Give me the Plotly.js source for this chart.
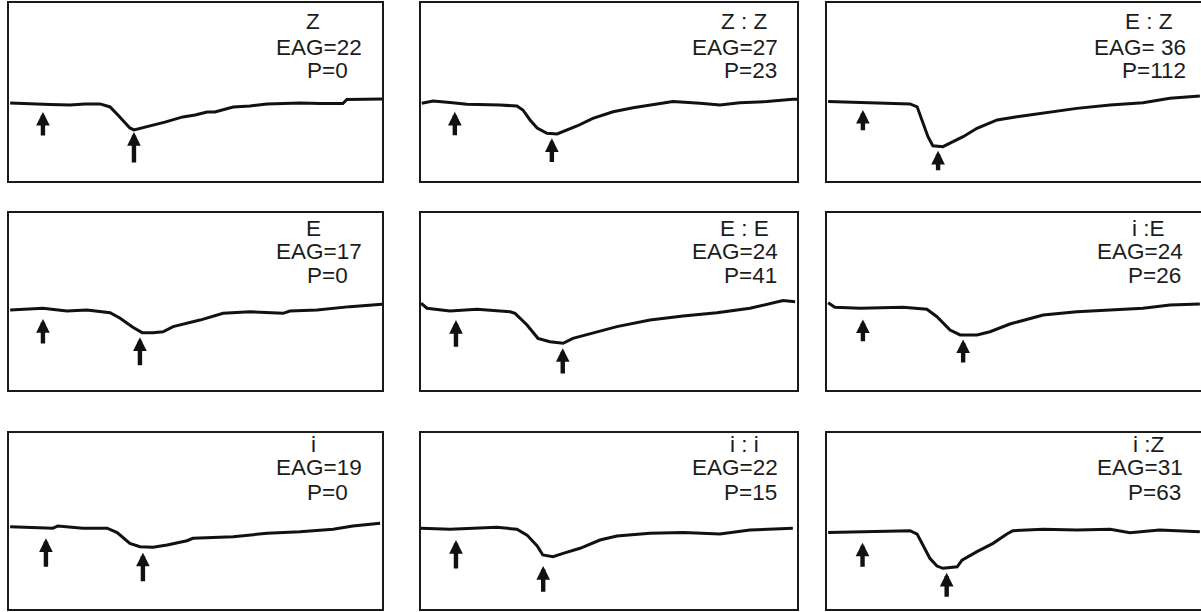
<!DOCTYPE html>
<html><head><meta charset="utf-8">
<script src="https://cdn.plot.ly/plotly-3.0.1.min.js"></script>
<style>html,body{margin:0;padding:0;background:#fff}#chart{width:1201px;height:612px}</style>
</head><body><div id="chart"></div>
<script>
// ---- data (time 0-100 across a panel, response 0-100 up the panel) ----
const pairLabels = ['Z', 'Z : Z', 'E : Z', 'E', 'E : E', 'i :E', 'i', 'i : i', 'i :Z'];
const eagValues = [22, 27, 36, 17, 24, 24, 19, 22, 31];
const pValues = [0, 23, 112, 0, 41, 26, 0, 15, 63];

const t1 = [0.3,5.6,11.0,16.4,20.4,24.4,27.1,29.2,31.1,32.4,33.5,35.1,37.8,41.8,46.6,49.9,53.1,55.2,60.1,64.6,69.2,78.0,83.4,89.5,90.6,95.4,100];
const y1 = [43.8,43.3,43.0,42.7,43.3,43.3,41.6,37.1,32.6,29.8,28.7,29.5,30.9,33.1,36.0,37.1,38.8,38.8,41.6,42.1,43.3,43.8,43.5,43.5,45.8,46.1,46.1];
const t2 = [0.2,3.2,7.7,12.2,21.0,25.5,27.1,29.0,30.9,33.5,36.2,37.8,41.5,45.7,51.1,56.4,61.7,67.0,74.2,79.5,84.8,92.0,98.9,100];
const y2 = [43.7,44.9,44.1,43.1,42.7,42.1,39.9,34.3,29.8,26.8,26.4,27.7,30.9,35.2,38.9,41.2,42.7,44.6,43.7,42.7,44.0,44.6,45.9,45.9];
const t3 = [0.3,8.8,16.0,22.2,24.1,25.7,27.0,28.3,31.0,33.7,36.4,40.1,45.5,50.8,57.8,66.8,75.7,84.5,91.7,99.7];
const y3 = [44.6,44.0,43.7,43.3,41.7,32.4,24.9,19.8,19.3,22.1,24.9,29.6,34.3,36.1,38.0,40.8,42.7,44.0,46.5,47.8];
const t4 = [0.3,9.1,15.5,20.9,27.1,29.8,33.2,35.7,38.6,41.3,44.0,51.2,57.4,64.6,73.5,75.3,82.6,91.4,100];
const y4 = [45.2,46.2,44.6,45.2,43.7,40.5,35.4,32.4,32.4,32.9,35.8,39.5,43.3,44.2,43.3,44.6,45.2,47.1,48.4];
const t5 = [0,1.6,7.7,14.9,23.7,25.0,28.2,31.1,34.3,37.8,40.4,45.7,52.1,60.9,69.7,78.7,87.5,96.3,99.5];
const y5 = [49.0,46.2,44.6,45.6,44.2,43.3,36.7,29.2,27.3,26.4,29.2,32.0,35.8,39.5,41.8,43.7,46.2,50.5,49.9];
const t6 = [0.3,2.1,8.8,20.3,26.7,29.4,32.9,35.6,40.1,43.6,48.9,57.8,66.8,75.7,84.5,91.7,99.7];
const y6 = [49.3,46.7,46.2,46.7,45.6,41.4,33.9,31.1,31.1,32.9,37.3,42.4,44.2,45.2,46.2,48.0,48.6];
const t7 = [0.3,6.4,11.8,13.1,19.8,26.3,29.0,32.4,35.1,38.6,42.4,47.7,49.3,60.1,69.2,78.0,86.9,92.2,99.5];
const y7 = [46.8,46.4,45.9,47.2,45.9,45.9,43.4,37.3,35.4,35.1,36.4,38.8,40.2,41.1,43.0,43.9,45.3,47.2,48.7];
const t8 = [0,7.7,20.2,25.5,28.2,30.9,32.4,35.1,37.8,42.3,47.6,52.1,60.9,69.7,79.5,87.5,98.9];
const y8 = [45.9,45.3,46.4,45.3,42.0,35.8,30.7,29.7,31.6,34.5,39.2,41.5,43.0,43.4,42.6,44.9,45.9];
const t9 = [0.3,8.8,22.2,24.1,25.7,27.5,29.4,31.0,34.8,36.1,40.1,44.4,48.1,49.7,57.8,66.8,75.7,81.0,88.9,99.7];
const y9 = [43.4,43.9,44.5,42.6,36.4,28.8,24.4,23.1,24.0,27.8,32.6,37.3,42.6,44.5,45.3,44.9,45.3,43.4,44.9,43.9];

// stimulus onset and response-peak markers (times)
const onsetTimes = [9.1, 9.0, 9.6, 9.1, 9.3, 9.6, 9.9, 9.3, 9.5];
const peakTimes = [33.5, 34.8, 29.7, 35.1, 37.7, 36.4, 35.9, 32.5, 32.0];

// ---- layout geometry (not data) ----
const onsetHead = [38.8,38.9,39.9,40.1,39.5,39.9,40.2,39.2,37.7];
const onsetTail = [24.7,24.9,27.7,25.4,23.6,26.7,23.1,22.2,23.1];
const peakHead = [27.5,24.0,17.0,29.8,23.6,28.6,32.0,24.4,20.6];
const peakTail = [9.6,9.9,5.2,13.2,8.5,14.7,14.9,8.9,6.1];

const times = [t1,t2,t3,t4,t5,t6,t7,t8,t9];
const signals = [y1,y2,y3,y4,y5,y6,y7,y8,y9];

const W = 1201, H = 612;
const colPx = [[9,382],[421,797],[827,1201]];
const rowPx = [[3,181],[213,390],[433,609]];
const textX = [[81.5,83,85.5],[86,83.5,87.5],[86,83.8,87.5]];
const textY = [[89.5,75,62],[91.5,78.3,64.8],[93.6,80.2,66.3]];

const data = [];
const layout = {
  width: W, height: H,
  margin: {l:0, r:0, t:0, b:0},
  paper_bgcolor: '#fff', plot_bgcolor: '#fff',
  showlegend: false,
  annotations: []
};
const font = {family: 'Liberation Sans, Arial, sans-serif', size: 22.5, color: '#1c1c1c'};

for (let i = 0; i < 9; i++) {
  const r = Math.floor(i / 3), c = i % 3;
  const n = i + 1;
  const xa = n === 1 ? 'x' : 'x' + n;
  const ya = n === 1 ? 'y' : 'y' + n;
  const xk = n === 1 ? 'xaxis' : 'xaxis' + n;
  const yk = n === 1 ? 'yaxis' : 'yaxis' + n;
  layout[xk] = {
    domain: [colPx[c][0] / W, colPx[c][1] / W], range: [0, 100],
    showgrid: false, zeroline: false, showticklabels: false, ticks: '',
    showline: true, mirror: true, linecolor: '#1a1a1a', linewidth: 1.8, anchor: ya, fixedrange: true
  };
  layout[yk] = {
    domain: [1 - rowPx[r][1] / H, 1 - rowPx[r][0] / H], range: [0, 100],
    showgrid: false, zeroline: false, showticklabels: false, ticks: '',
    showline: true, mirror: c !== 2, linecolor: '#1a1a1a', linewidth: 1.8, anchor: xa, fixedrange: true
  };
  data.push({
    type: 'scatter', mode: 'lines', x: times[i], y: signals[i], xaxis: xa, yaxis: ya,
    line: {color: '#111', width: 3, shape: 'linear'}, hoverinfo: 'skip'
  });
  const lines = [pairLabels[i], (i === 2 ? 'EAG= ' : 'EAG=') + eagValues[i], 'P=' + pValues[i]];
  lines.forEach((txt, k) => {
    layout.annotations.push({
      xref: xa, yref: ya, x: textX[c][k], y: textY[r][k], text: txt, showarrow: false,
      xanchor: 'center', yanchor: 'middle', font: font
    });
  });
  [[onsetTimes[i], onsetHead[i], onsetTail[i]], [peakTimes[i], peakHead[i], peakTail[i]]].forEach(a => {
    layout.annotations.push({
      xref: xa, yref: ya, axref: xa, ayref: ya,
      x: a[0], y: a[1], ax: a[0], ay: a[2], text: '', showarrow: true,
      arrowhead: 2, arrowsize: 0.62, arrowwidth: 4.4, arrowcolor: '#111', standoff: 0
    });
  });
}

Plotly.newPlot('chart', data, layout, {staticPlot: true, displayModeBar: false});
</script>
</body></html>
